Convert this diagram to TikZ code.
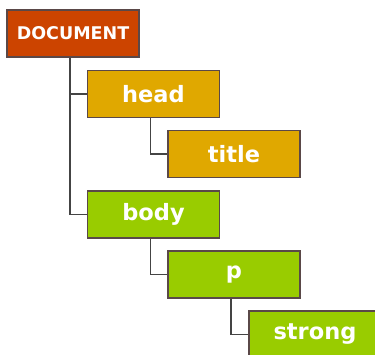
\documentclass[tikz,border=0pt]{standalone}
\usepackage{fontspec}
\setsansfont{DejaVu Sans}
\usepackage{xcolor}
\usepackage{tikz}
\usetikzlibrary{
    positioning,
    calc
}
\definecolor{docred}{HTML}{CC4400}
\definecolor{headgold}{HTML}{E0A800}
\definecolor{bodygreen}{HTML}{99CC00}
\definecolor{boxline}{HTML}{5A4848}
\definecolor{linegray}{HTML}{444444}
\tikzset{
  basic/.style = {
      draw=boxline,
      line width=1.2pt,
      rectangle,
      minimum width=132pt,
      minimum height=47pt,
      inner sep=0pt,
      text=white,
      font=\sffamily\bfseries\fontsize{22.5}{22.5}\selectfont
  },
  root/.style = {
      basic,
      fill=docred,
      font=\sffamily\bfseries\fontsize{17.5}{17.5}\selectfont
  },
  headnode/.style = {
      basic,
      fill=headgold
  },
  bodynode/.style = {
      basic,
      fill=bodygreen
  },
  edge/.style = {
      draw=linegray,
      line width=1.5pt
  }
}

\begin{document}
\begin{tikzpicture}[x=1pt, y=-1pt]
    \useasboundingbox (0,0) rectangle (375,354);
    \clip (0,0) rectangle (375,354);
    \node[root] (doc) at (73,33.5) {DOCUMENT};
    \node[headnode] (head) at (153.5,94) {head};
    \node[headnode] (title) at (234,154) {title};
    \node[bodynode] (body) at (153.5,214.5) {body};
    \node[bodynode] (p) at (234,274.5) {p};
    \node[bodynode] (strong) at (315,334.5) {strong};
    % Edges
    \draw[edge] ($(doc.south)+(-3,0)$) |- (head.west);
    \draw[edge] ($(doc.south)+(-3,0)$) |- (body.west);
    \draw[edge] ($(head.south)+(-3,0)$) |- (title.west);
    \draw[edge] ($(body.south)+(-3,0)$) |- (p.west);
    \draw[edge] ($(p.south)+(-3,0)$) |- (strong.west);
\end{tikzpicture}
\end{document}
